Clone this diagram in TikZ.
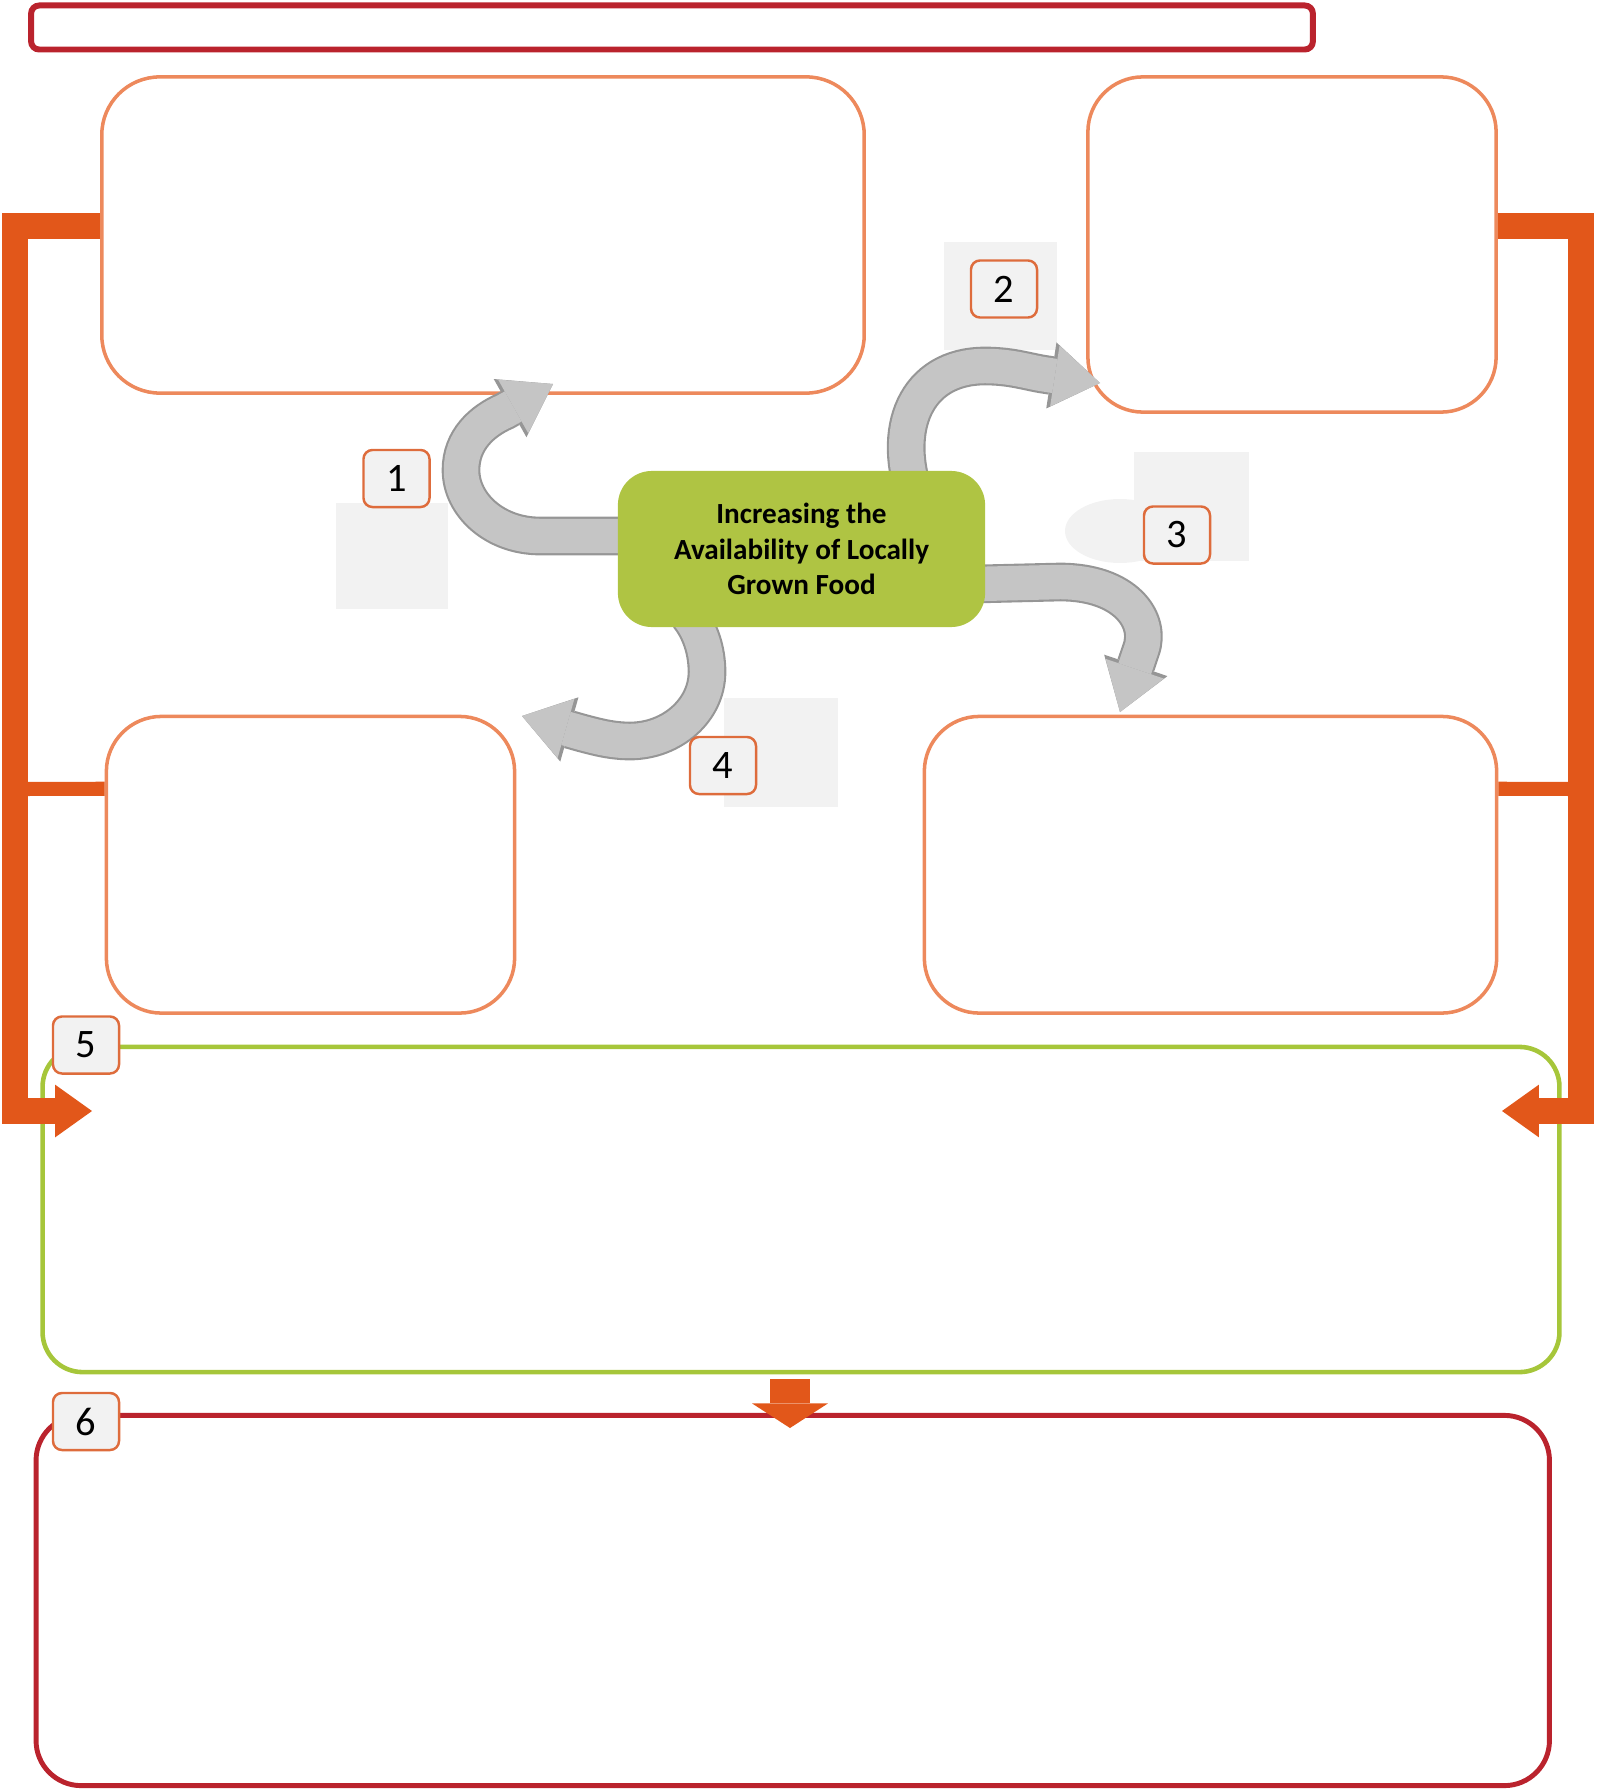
\documentclass[tikz,border=0pt]{standalone}
\usepackage{fontspec}
\setmainfont{Carlito}
\usepackage{tikz}
\usetikzlibrary{arrows.meta}
\definecolor{barorange}{RGB}{226,87,26}
\definecolor{boxorange}{RGB}{237,137,92}
\definecolor{numorange}{RGB}{222,108,60}
\definecolor{hubgreen}{RGB}{175,196,67}
\definecolor{framegreen}{RGB}{166,198,58}
\definecolor{framered}{RGB}{186,35,45}
\definecolor{ghost}{RGB}{242,242,242}
\definecolor{arrowgray}{RGB}{197,197,197}
\definecolor{arrowedge}{RGB}{150,150,150}
\pgfdeclarelayer{front}
\pgfsetlayers{main,front}
\tikzset{panel/.style={draw=boxorange, line width=1pt, rounded corners=0.55cm, inner sep=0pt},
 numbox/.style={draw=numorange, line width=0.7pt, fill=ghost, rounded corners=0.09cm,
   minimum width=0.66cm, minimum height=0.57cm, inner sep=0pt, font=\fontsize{11.5}{12}\selectfont},
 hub/.style={fill=hubgreen, rounded corners=0.34cm, minimum width=3.67cm, minimum height=1.56cm,
   align=center, font=\fontsize{8.3}{10.1}\selectfont\bfseries},
 curvy/.style={draw=arrowgray, line width=9.8pt, -{Triangle[length=13pt,width=17.5pt,line width=0pt]},
   preaction={draw=arrowedge, line width=11pt, -{Triangle[length=14pt,width=19pt,line width=0pt]}}},
 bar/.style={draw=barorange, line width=7.4pt, -{Triangle[length=10.5pt,width=15pt,line width=0pt]}},
 arm/.style={draw=barorange, line width=4pt},
 dropbar/.style={draw=barorange, line width=11.4pt, -{Triangle[length=7pt,width=21.6pt,line width=0pt]}},
 }

\begin{document}
\begin{tikzpicture}[x=0.01cm, y=-0.01cm]
        \useasboundingbox (0,0) rectangle (1596,1791);
        \fill[ghost] (336,503) rectangle (448,609);
        \fill[ghost] (944,242) rectangle (1057,350);
        \fill[ghost] (1134,452) rectangle (1249,561);
        \fill[ghost] (1120,531) ellipse[x radius=55, y radius=32];
        \fill[ghost] (724,698) rectangle (838,807);

        \node[draw=framered, line width=1.7pt, rounded corners=0.08cm, minimum width=12.81cm,
              minimum height=0.44cm, inner sep=0pt] (title) at (672,27.5) {};
        \node[panel, rounded corners=0.58cm, minimum width=7.62cm, minimum height=3.16cm] (tl) at (483,235) {};
        \node[panel, minimum width=4.08cm, minimum height=3.35cm] (tr) at (1292,244.5) {};
        \node[panel, minimum width=4.08cm, minimum height=2.965cm] (bl) at (310.5,864.75) {};
        \node[panel, minimum width=5.72cm, minimum height=2.965cm] (br) at (1210.5,864.75) {};
        \node[draw=framegreen, line width=1.3pt, rounded corners=0.4cm, minimum width=15.16cm,
              minimum height=3.25cm, inner sep=0pt] (res) at (801,1209.5) {};
        \node[draw=framered, line width=1.4pt, rounded corners=0.45cm, minimum width=15.125cm,
              minimum height=3.7cm, inner sep=0pt] (outc) at (792.75,1600.5) {};

        \begin{pgfonlayer}{front}
        \node[hub] (hub) at (801.5,549) {Increasing the\\Availability of Locally\\Grown Food};
        \end{pgfonlayer}

        \coordinate (a1) at (553,384);
        \coordinate (a2) at (1100,383);
        \coordinate (a3) at (1120,712);
        \coordinate (a4) at (522,716);
        \draw[curvy] (hub.west) ++(10,-13) -- (540,536) .. controls (495,536) and (461,505) .. (461,470)
              .. controls (461,440) and (482,421) .. (505,411) -- (a1);
        \draw[curvy] (hub.north) ++(115,30) .. controls (890,430) and (915,366) .. (985,366)
              .. controls (1010,366) and (1025,371) .. (1042,374) -- (a2);
        \draw[curvy] (hub.east) ++(-10,35) -- (1060,582) .. controls (1125,582) and (1152,620) .. (1141,650)
              -- (a3);
        \draw[curvy] (hub.south) ++(-113,-12) .. controls (700,630) and (707,650) .. (707,672)
              .. controls (707,710) and (672,741) .. (630,741) .. controls (612,741) and (597,737) .. (582,733)
              -- (a4);

        \coordinate (inL) at (92,1111);
        \coordinate (inR) at (1502,1111);
        \coordinate (dn) at (790,1428);
        \draw[bar] (tl.west) ++(0,-9) -| (15,1111) -- (inL);
        \draw[bar] (tr.east) ++(0,-18.5) -| (1581,1111) -- (inR);
        \draw[arm] (bl.west) ++(0,-76) -- (15,789);
        \draw[arm] (br.east) ++(0,-76) -- (1581,789);
        \draw[dropbar] (res.south -| dn) ++(0,5) -- (dn);

        \node[numbox] (n1) at (396.5,478.5) {1};
        \node[numbox] (n2) at (1004,289) {2};
        \node[numbox] (n3) at (1177,535) {3};
        \node[numbox] (n4) at (723,765.5) {4};
        \node[numbox] (n5) at (86,1045) {5};
        \node[numbox] (n6) at (86,1421.5) {6};
\end{tikzpicture}
\end{document}
